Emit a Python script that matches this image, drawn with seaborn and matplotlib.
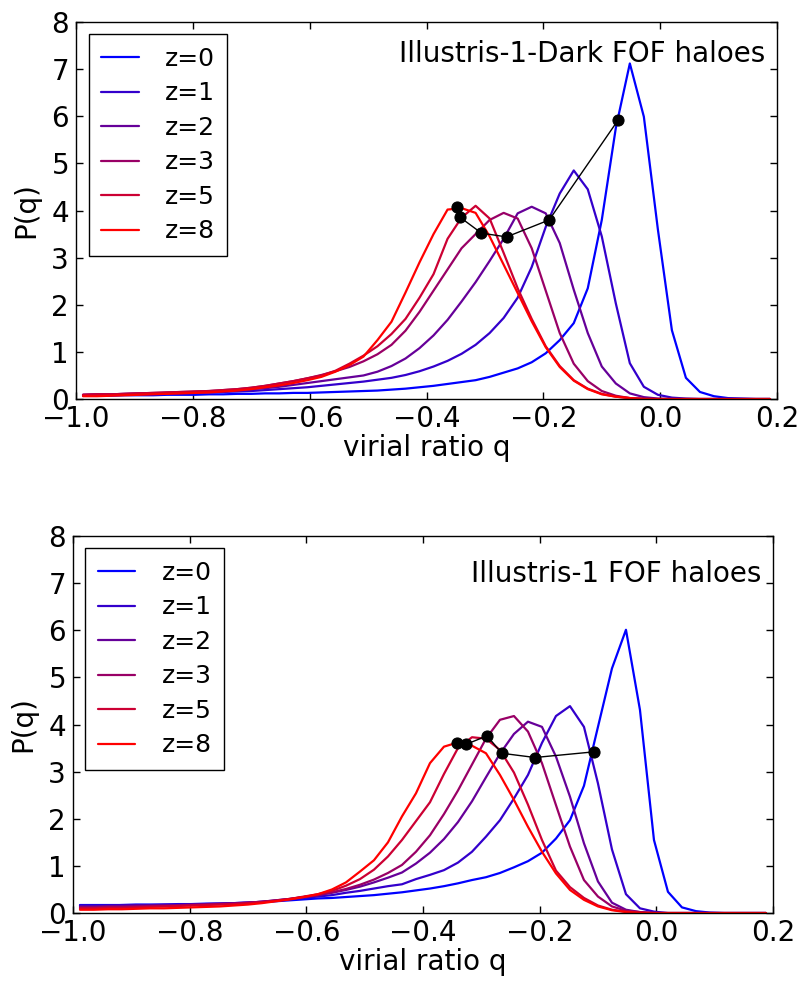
import numpy as np
import pandas as pd
import seaborn as sns
import matplotlib
matplotlib.use('Agg')
import matplotlib.pyplot as plt

# bin centres of the virial ratio histogram
q = [-0.988, -0.964, -0.94, -0.916, -0.892, -0.868, -0.844, -0.82, -0.796, -0.772,
     -0.748, -0.724, -0.7, -0.676, -0.652, -0.628, -0.604, -0.58, -0.556, -0.532,
     -0.508, -0.484, -0.46, -0.436, -0.412, -0.388, -0.364, -0.34, -0.316, -0.292,
     -0.268, -0.244, -0.22, -0.196, -0.172, -0.148, -0.124, -0.1, -0.076, -0.052,
     -0.028, -0.004, 0.02, 0.044, 0.068, 0.092, 0.116, 0.14, 0.164, 0.188]

redshifts = ['z=0', 'z=1', 'z=2', 'z=3', 'z=5', 'z=8']
colors = [(0, 0, 1), (0.2, 0, 0.8), (0.4, 0, 0.6), (0.6, 0, 0.4), (0.8, 0, 0.2), (1, 0, 0)]

# Illustris-1-Dark
dark_z0 = [0.07, 0.07, 0.07, 0.08, 0.08, 0.08, 0.09, 0.09, 0.09, 0.10,
           0.10, 0.11, 0.11, 0.12, 0.12, 0.13, 0.13, 0.14, 0.15, 0.16,
           0.17, 0.18, 0.20, 0.22, 0.25, 0.28, 0.32, 0.36, 0.40, 0.47,
           0.56, 0.65, 0.78, 0.97, 1.25, 1.61, 2.35, 3.80, 5.75, 7.12,
           5.99, 3.60, 1.46, 0.45, 0.15, 0.06, 0.02, 0.01, 0.0, 0.0]
dark_z1 = [0.08, 0.09, 0.09, 0.10, 0.10, 0.11, 0.12, 0.12, 0.13, 0.14,
           0.15, 0.16, 0.17, 0.19, 0.21, 0.23, 0.25, 0.28, 0.31, 0.34,
           0.37, 0.41, 0.45, 0.51, 0.59, 0.69, 0.81, 0.96, 1.15, 1.40,
           1.72, 2.15, 2.80, 3.65, 4.36, 4.85, 4.45, 3.45, 2.03, 0.76,
           0.26, 0.09, 0.03, 0.01, 0.0, 0.0, 0.0, 0.0, 0.0, 0.0]
dark_z2 = [0.09, 0.10, 0.10, 0.11, 0.12, 0.12, 0.13, 0.14, 0.15, 0.16,
           0.17, 0.19, 0.21, 0.23, 0.26, 0.30, 0.34, 0.38, 0.42, 0.46,
           0.50, 0.58, 0.70, 0.86, 1.08, 1.35, 1.68, 2.07, 2.48, 2.93,
           3.40, 3.94, 4.08, 3.94, 3.31, 2.32, 1.40, 0.69, 0.33, 0.12,
           0.04, 0.01, 0.0, 0.0, 0.0, 0.0, 0.0, 0.0, 0.0, 0.0]
dark_z3 = [0.09, 0.10, 0.10, 0.11, 0.12, 0.13, 0.14, 0.15, 0.16, 0.17,
           0.19, 0.21, 0.24, 0.28, 0.33, 0.38, 0.44, 0.51, 0.59, 0.68,
           0.80, 0.95, 1.15, 1.45, 1.85, 2.30, 2.75, 3.20, 3.50, 3.80,
           3.95, 3.83, 3.20, 2.30, 1.40, 0.75, 0.38, 0.17, 0.07, 0.02,
           0.01, 0.0, 0.0, 0.0, 0.0, 0.0, 0.0, 0.0, 0.0, 0.0]
dark_z5 = [0.09, 0.10, 0.10, 0.11, 0.12, 0.13, 0.14, 0.15, 0.16, 0.17,
           0.19, 0.21, 0.24, 0.28, 0.33, 0.38, 0.44, 0.50, 0.60, 0.75,
           0.92, 1.12, 1.38, 1.70, 2.15, 2.65, 3.40, 3.85, 4.10, 3.83,
           3.10, 2.35, 1.70, 1.12, 0.70, 0.40, 0.22, 0.11, 0.05, 0.02,
           0.0, 0.0, 0.0, 0.0, 0.0, 0.0, 0.0, 0.0, 0.0, 0.0]
dark_z8 = [0.06, 0.06, 0.07, 0.08, 0.09, 0.10, 0.11, 0.12, 0.13, 0.14,
           0.16, 0.18, 0.21, 0.25, 0.29, 0.34, 0.40, 0.47, 0.58, 0.72,
           0.90, 1.25, 1.64, 2.26, 2.90, 3.50, 4.02, 4.05, 3.95, 3.45,
           2.85, 2.25, 1.65, 1.10, 0.68, 0.39, 0.21, 0.10, 0.05, 0.02,
           0.0, 0.0, 0.0, 0.0, 0.0, 0.0, 0.0, 0.0, 0.0, 0.0]
dark_med_q = [-0.072, -0.190, -0.263, -0.306, -0.343, -0.348]
dark_med_p = [5.92, 3.80, 3.44, 3.52, 3.86, 4.08]

# Illustris-1
hydro_z0 = [0.17, 0.17, 0.17, 0.17, 0.18, 0.18, 0.18, 0.19, 0.19, 0.20,
            0.20, 0.21, 0.22, 0.23, 0.25, 0.27, 0.29, 0.31, 0.32, 0.34,
            0.36, 0.38, 0.41, 0.44, 0.48, 0.52, 0.57, 0.63, 0.70, 0.76,
            0.85, 0.97, 1.10, 1.28, 1.58, 1.97, 2.70, 3.95, 5.19, 6.01,
            4.31, 1.55, 0.45, 0.12, 0.04, 0.01, 0.0, 0.0, 0.0, 0.0]
hydro_z1 = [0.16, 0.16, 0.16, 0.17, 0.17, 0.17, 0.18, 0.18, 0.19, 0.19,
            0.20, 0.21, 0.22, 0.24, 0.26, 0.29, 0.32, 0.35, 0.38, 0.43,
            0.47, 0.52, 0.57, 0.61, 0.72, 0.81, 0.91, 1.07, 1.30, 1.62,
            1.97, 2.43, 2.93, 3.61, 4.18, 4.39, 3.95, 2.75, 1.35, 0.40,
            0.10, 0.03, 0.0, 0.0, 0.0, 0.0, 0.0, 0.0, 0.0, 0.0]
hydro_z2 = [0.14, 0.14, 0.15, 0.15, 0.16, 0.16, 0.17, 0.17, 0.18, 0.19,
            0.20, 0.21, 0.22, 0.24, 0.27, 0.30, 0.34, 0.38, 0.43, 0.49,
            0.56, 0.65, 0.75, 0.86, 1.05, 1.28, 1.57, 1.93, 2.37, 2.88,
            3.38, 3.80, 4.06, 3.95, 3.32, 2.47, 1.48, 0.67, 0.22, 0.07,
            0.02, 0.0, 0.0, 0.0, 0.0, 0.0, 0.0, 0.0, 0.0, 0.0]
hydro_z3 = [0.12, 0.12, 0.13, 0.13, 0.14, 0.15, 0.15, 0.16, 0.17, 0.18,
            0.19, 0.20, 0.22, 0.24, 0.27, 0.30, 0.34, 0.38, 0.44, 0.51,
            0.60, 0.71, 0.85, 1.02, 1.30, 1.65, 2.10, 2.60, 3.15, 3.70,
            4.10, 4.18, 3.85, 3.18, 2.29, 1.41, 0.70, 0.35, 0.14, 0.05,
            0.02, 0.0, 0.0, 0.0, 0.0, 0.0, 0.0, 0.0, 0.0, 0.0]
hydro_z5 = [0.10, 0.10, 0.11, 0.11, 0.12, 0.13, 0.14, 0.15, 0.16, 0.17,
            0.18, 0.19, 0.21, 0.23, 0.26, 0.30, 0.35, 0.40, 0.47, 0.58,
            0.72, 0.92, 1.20, 1.55, 1.95, 2.35, 2.95, 3.50, 3.73, 3.70,
            3.46, 2.98, 2.30, 1.55, 0.90, 0.55, 0.32, 0.16, 0.07, 0.03,
            0.01, 0.0, 0.0, 0.0, 0.0, 0.0, 0.0, 0.0, 0.0, 0.0]
hydro_z8 = [0.07, 0.07, 0.08, 0.08, 0.09, 0.10, 0.10, 0.11, 0.12, 0.13,
            0.14, 0.16, 0.18, 0.21, 0.25, 0.29, 0.34, 0.40, 0.50, 0.65,
            0.88, 1.12, 1.50, 2.05, 2.54, 3.18, 3.53, 3.62, 3.55, 3.39,
            2.93, 2.40, 1.83, 1.30, 0.84, 0.49, 0.28, 0.14, 0.06, 0.02,
            0.0, 0.0, 0.0, 0.0, 0.0, 0.0, 0.0, 0.0, 0.0, 0.0]
hydro_med_q = [-0.107, -0.208, -0.265, -0.290, -0.326, -0.342]
hydro_med_p = [3.42, 3.30, 3.39, 3.76, 3.58, 3.61]

sns.set_style('ticks')
plt.rcParams['font.family'] = ['DejaVu Sans']
plt.rcParams.update({
    'xtick.direction': 'in', 'ytick.direction': 'in',
    'xtick.top': True, 'ytick.right': True,
    'xtick.major.size': 5, 'ytick.major.size': 5,
    'xtick.major.width': 1, 'ytick.major.width': 1,
    'axes.linewidth': 1, 'axes.edgecolor': 'black',
    'xtick.color': 'black', 'ytick.color': 'black',
    'text.color': 'black', 'axes.labelcolor': 'black',
})


def long_frame(curves):
    rows = []
    for name, vals in zip(redshifts, curves):
        rows.append(pd.DataFrame({'q': q, 'P': vals, 'z': name}))
    return pd.concat(rows, ignore_index=True)


def panel(ax, curves, med_q, med_p, title, title_y):
    df = long_frame(curves)
    sns.lineplot(data=df, x='q', y='P', hue='z', palette=colors,
                 hue_order=redshifts, linewidth=1.6, ax=ax)
    sns.lineplot(x=med_q, y=med_p, sort=False, estimator=None, color='black',
                 linewidth=1.0, marker='o', markersize=8,
                 markeredgecolor='black', ax=ax)
    ax.set_xlim(-1.0, 0.2)
    ax.set_ylim(0, 8)
    ax.set_xticks([-1.0, -0.8, -0.6, -0.4, -0.2, 0.0, 0.2])
    ax.set_yticks(range(9))
    ax.tick_params(labelsize=20, pad=5, colors='black')
    ax.tick_params(axis='x', pad=4)
    ax.set_xlabel('virial ratio q', fontsize=20, labelpad=1)
    ax.set_ylabel('P(q)', fontsize=20, labelpad=8)
    handles, labels = ax.get_legend_handles_labels()
    leg = ax.legend(handles[:6], labels[:6], loc='upper left', fontsize=18,
                    frameon=True, fancybox=False, framealpha=1,
                    edgecolor='black', handlelength=1.5, handletextpad=1.05,
                    labelspacing=0.42, borderpad=0.5,
                    bbox_to_anchor=(0.0, 1.0), borderaxespad=0.5)
    leg.get_frame().set_linewidth(1.0)
    ax.text(0.983, title_y, title, transform=ax.transAxes, fontsize=20,
            ha='right', va='center')
    for s in ax.spines.values():
        s.set_visible(True)


fig = plt.figure(figsize=(8.01, 9.86), dpi=100)
ax1 = fig.add_axes([0.0949, 0.5953, 0.8752, 0.3824])
ax2 = fig.add_axes([0.0911, 0.0740, 0.8739, 0.3824])

panel(ax1, [dark_z0, dark_z1, dark_z2, dark_z3, dark_z5, dark_z8],
      dark_med_q, dark_med_p, 'Illustris-1-Dark FOF haloes', 0.915)
panel(ax2, [hydro_z0, hydro_z1, hydro_z2, hydro_z3, hydro_z5, hydro_z8],
      hydro_med_q, hydro_med_p, 'Illustris-1 FOF haloes', 0.9)

fig.savefig('out.png', dpi=100)
